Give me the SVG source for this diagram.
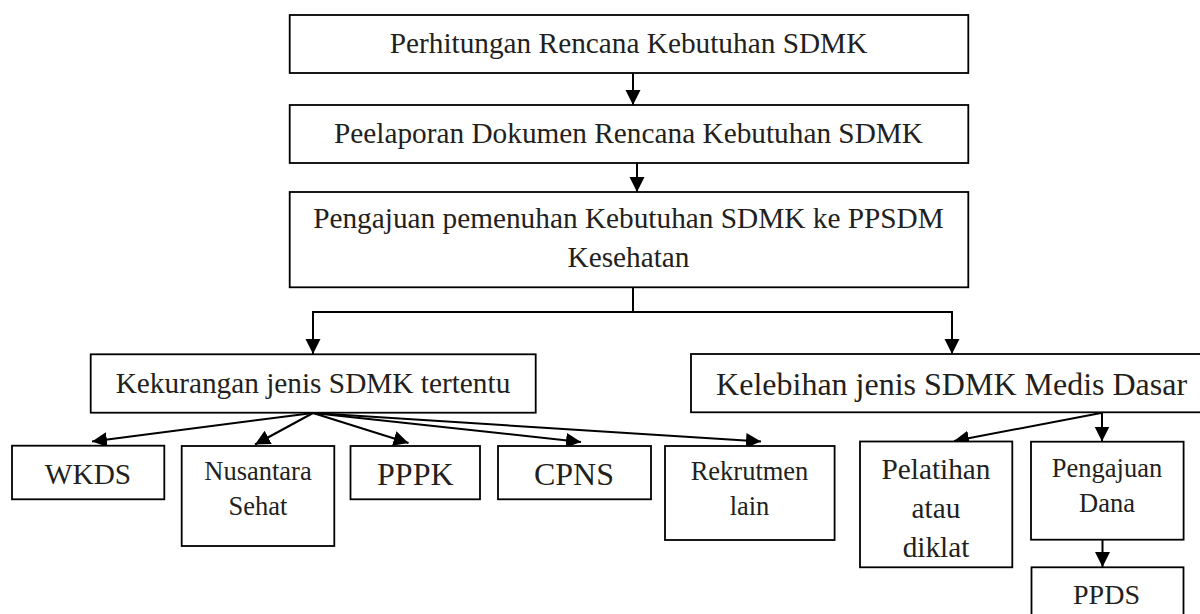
<svg xmlns="http://www.w3.org/2000/svg" width="1200" height="614" viewBox="0 0 1200 614">
<defs>
<marker id="ah" markerUnits="userSpaceOnUse" markerWidth="17" markerHeight="17" refX="15" refY="7.5" orient="auto">
<path d="M0,0 L15,7.5 L0,15 z" fill="#000"/>
</marker>
<style>
.box{fill:#fff;stroke:#000;stroke-width:1.8}
.t{font-family:"Liberation Serif","Times New Roman",serif;fill:#231f20;text-anchor:middle}
.f29{font-size:29.3px}
.f32{font-size:32px}
.f26{font-size:26.5px}
.c{fill:none;stroke:#000;stroke-width:2}
.a{fill:none;stroke:#000;stroke-width:2;marker-end:url(#ah)}
</style>
</defs>
<rect width="1200" height="614" fill="#fff"/>
<g id="connectors">
<line class="a" x1="633" y1="73" x2="633" y2="105"/>
<line class="a" x1="637" y1="163" x2="637" y2="192"/>
<line class="c" x1="633" y1="287" x2="633" y2="312"/>
<line class="c" x1="312" y1="312" x2="953" y2="312"/>
<line class="a" x1="313" y1="312" x2="313" y2="354"/>
<line class="a" x1="952" y1="312" x2="952" y2="354"/>
<line class="a" x1="313" y1="413" x2="92" y2="441.5"/>
<line class="a" x1="313" y1="413" x2="255" y2="444.5"/>
<line class="a" x1="313" y1="413" x2="408.5" y2="443"/>
<line class="a" x1="313" y1="413" x2="581" y2="442"/>
<line class="a" x1="313" y1="413" x2="761" y2="441.5"/>
<line class="a" x1="1101" y1="413" x2="954" y2="441"/>
<line class="a" x1="1102" y1="413" x2="1102" y2="441.5"/>
<line class="a" x1="1102.5" y1="540" x2="1102.5" y2="567"/>
</g>
<g id="n1"><rect class="box" x="289.7" y="15" width="678.6" height="58"/><text class="t f29" x="628.5" y="53.3">Perhitungan Rencana Kebutuhan SDMK</text></g>
<g id="n2"><rect class="box" x="289.7" y="105" width="678.6" height="58"/><text class="t f29" x="628.5" y="143.3">Peelaporan Dokumen Rencana Kebutuhan SDMK</text></g>
<g id="n3"><rect class="box" x="289.7" y="192" width="678.6" height="95.3"/><text class="t f29" x="628.5" y="228.3">Pengajuan pemenuhan Kebutuhan SDMK ke PPSDM</text><text class="t f29" x="628.5" y="266.7">Kesehatan</text></g>
<g id="n4"><rect class="box" x="90.7" y="354.3" width="445" height="58.4"/><text class="t f29" x="313" y="392.5">Kekurangan jenis SDMK tertentu</text></g>
<g id="n5"><rect class="box" x="691" y="354" width="512" height="58.3"/><text class="t f32" x="951.6" y="394.5">Kelebihan jenis SDMK Medis Dasar</text></g>
<g id="n6"><rect class="box" x="12" y="445.7" width="152.3" height="53.6"/><text class="t f29" x="88" y="484">WKDS</text></g>
<g id="n7"><rect class="box" x="181.7" y="446" width="152.6" height="100"/><text class="t f26" x="258" y="480">Nusantara</text><text class="t f26" x="258" y="515">Sehat</text></g>
<g id="n8"><rect class="box" x="350.5" y="446" width="129.5" height="53.3"/><text class="t f32" x="415.3" y="485">PPPK</text></g>
<g id="n9"><rect class="box" x="498" y="446" width="153" height="53.3"/><text class="t f32" x="574" y="485">CPNS</text></g>
<g id="n10"><rect class="box" x="665" y="446" width="169.6" height="94"/><text class="t f26" x="749.5" y="480">Rekrutmen</text><text class="t f26" x="749.5" y="515">lain</text></g>
<g id="n11"><rect class="box" x="860" y="441.5" width="152.3" height="125.8"/><text class="t f29" x="936" y="479">Pelatihan</text><text class="t f29" x="936" y="518">atau</text><text class="t f29" x="936" y="557">diklat</text></g>
<g id="n12"><rect class="box" x="1031" y="441.7" width="152.6" height="98"/><text class="t f26" x="1107" y="476.7">Pengajuan</text><text class="t f26" x="1107" y="511.7">Dana</text></g>
<g id="n13"><rect class="box" x="1031.5" y="567.3" width="152" height="60"/><text class="t" style="font-size:28px" x="1106.5" y="604">PPDS</text></g>
</svg>
